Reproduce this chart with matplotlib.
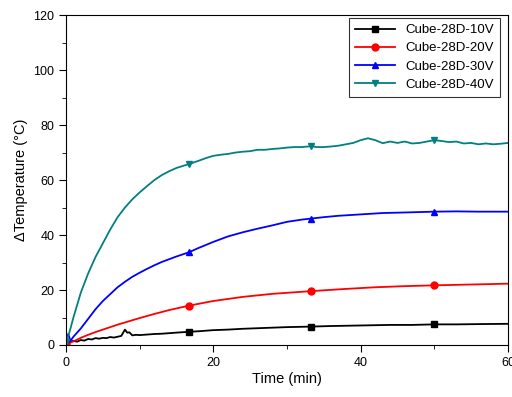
import numpy as np
import matplotlib.pyplot as plt
from matplotlib.ticker import MultipleLocator

plt.rcParams['font.family'] = ['Liberation Sans', 'DejaVu Sans']

# 10V
x_10 = [0, 0.5, 1, 1.5, 2, 2.5, 3, 3.5, 4, 4.5, 5, 5.5, 6, 6.5, 7, 7.5, 8, 8.3, 8.6, 9, 9.5, 10,
        11, 12, 13, 14, 15, 16.67, 18, 20, 22, 24, 26, 28, 30, 33.33, 36, 40, 44, 47, 50, 53, 56, 60]
y_10 = [0.5, 1.2, 1.5, 1.2, 1.8, 1.6, 2.2, 2.0, 2.5, 2.3, 2.6, 2.5, 2.9, 2.7, 3.0, 3.3, 5.6, 4.5, 4.6, 3.5, 3.7, 3.6,
        3.8, 4.0, 4.1, 4.3, 4.5, 4.8, 5.0, 5.4, 5.6, 5.9, 6.1, 6.3, 6.5, 6.7, 6.9, 7.1, 7.3, 7.3, 7.5, 7.5, 7.6, 7.7]

# 20V
x_20 = [0, 1, 2, 3, 4, 5, 6, 7, 8, 9, 10, 12, 14, 16.67, 20, 24, 28, 33.33, 38, 42, 46, 50, 55, 60]
y_20 = [0.3, 1.3, 2.6, 3.7, 4.7, 5.6, 6.5, 7.4, 8.2, 9.0, 9.8, 11.3, 12.7, 14.3, 16, 17.5, 18.6, 19.6, 20.4, 21, 21.4, 21.7, 22, 22.3]

# 30V
x_30 = [0, 0.3, 0.6, 1, 2, 3, 4, 5, 6, 7, 8, 9, 10, 11, 12, 13, 14, 15, 16.67, 18, 20, 22, 24, 26,
        28, 30, 32, 33.33, 35, 37, 40, 43, 46, 50, 53, 56, 60]
y_30 = [2, 4, 1.5, 3, 6, 9.5, 13, 16, 18.5, 21, 23, 24.8, 26.3, 27.7, 29, 30.2, 31.2, 32.2, 33.7, 35.3, 37.5, 39.5, 41, 42.3,
        43.5, 44.8, 45.6, 46, 46.5, 47, 47.5, 48, 48.2, 48.5, 48.6, 48.5, 48.5]

# 40V
x_40 = [0, 0.5, 1, 2, 3, 4, 5, 6, 7, 8, 9, 10, 11, 12, 13, 14, 15, 16.67, 18, 19, 20, 21, 22, 23, 24, 25,
        26, 27, 28, 29, 30, 31, 32, 33.33, 34, 35, 36, 37, 38, 39, 40, 41, 42, 43, 44, 45, 46, 47, 48, 49,
        50, 51, 52, 53, 54, 55, 56, 57, 58, 59, 60]
y_40 = [1, 5, 10, 19, 26, 32, 37, 42, 46.5, 50, 53, 55.5, 57.8, 60, 61.8, 63.2, 64.4, 65.8, 67, 68, 68.8,
        69.2, 69.5, 70, 70.3, 70.5, 71, 71, 71.3, 71.5, 71.8, 72, 72, 72.3, 72, 72, 72.2, 72.5, 73, 73.5,
        74.5, 75.2, 74.5, 73.4, 74, 73.5, 74, 73.3, 73.5, 74, 74.5, 74.2, 73.8, 74, 73.3, 73.5, 73, 73.3,
        73, 73.2, 73.5]

marker_x = [0, 16.67, 33.33, 50]

fig = plt.figure(figsize=(5.12, 3.97), dpi=100)
ax = fig.add_axes([0.129, 0.131, 0.863, 0.831])

series = [
    (x_10, y_10, 'black', 's', 'Cube-28D-10V'),
    (x_20, y_20, 'red', 'o', 'Cube-28D-20V'),
    (x_30, y_30, 'blue', '^', 'Cube-28D-30V'),
    (x_40, y_40, '#008080', 'v', 'Cube-28D-40V'),
]
for xs, ys, c, m, lab in series:
    idx = list(np.where(np.isin(xs, marker_x))[0])
    ax.plot(xs, ys, color=c, marker=m, markersize=5, markevery=idx, linewidth=1.3, label=lab)

ax.set_xlim(0, 60)
ax.set_ylim(0, 120)
ax.xaxis.set_major_locator(MultipleLocator(20))
ax.xaxis.set_minor_locator(MultipleLocator(10))
ax.yaxis.set_major_locator(MultipleLocator(20))
ax.yaxis.set_minor_locator(MultipleLocator(10))
ax.tick_params(which='major', direction='out', length=5, labelsize=9)
ax.tick_params(which='minor', direction='out', length=3)

ax.set_xlabel("Time (min)", fontsize=10.5, labelpad=2)
ax.set_ylabel("ΔTemperature (°C)", fontsize=10.5)

leg = ax.legend(loc='upper right', fontsize=9.5, fancybox=False, edgecolor='black',
                handlelength=3, borderpad=0.45, labelspacing=0.45,
                bbox_to_anchor=(0.982, 0.991), borderaxespad=0)
leg.get_frame().set_linewidth(0.8)

fig.savefig("out.png", dpi=100)
